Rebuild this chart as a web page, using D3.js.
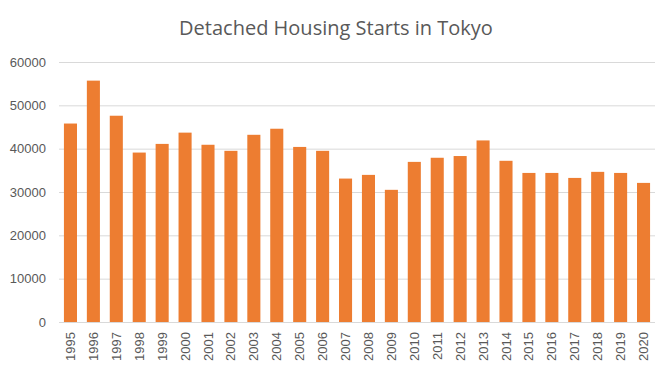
<!DOCTYPE html>
<html>
<head>
<meta charset="utf-8">
<script src="https://cdn.jsdelivr.net/npm/d3@7"></script>
<style>
  body { margin: 0; background: #fff; }
</style>
</head>
<body>
<svg id="chart"></svg>
<script>
var years = ["1995", "1996", "1997", "1998", "1999", "2000", "2001", "2002", "2003",
    "2004", "2005", "2006", "2007", "2008", "2009", "2010", "2011", "2012", "2013",
    "2014", "2015", "2016", "2017", "2018", "2019", "2020"];
var starts = [45800, 55700, 47600, 39100, 41100, 43700, 40900, 39500, 43200,
    44600, 40400, 39500, 33100, 33950, 30500, 36950, 37900, 38300, 41900,
    37200, 34400, 34400, 33250, 34650, 34400, 32100];
var yTicks = [0, 10000, 20000, 30000, 40000, 50000, 60000];

var svgWidth = 672, svgHeight = 375;
var margin = {top: 62, right: 17, bottom: 53, left: 59};
var width = svgWidth - margin.left - margin.right;
var height = svgHeight - margin.top - margin.bottom;

var svg = d3.select("#chart")
    .attr("width", svgWidth)
    .attr("height", svgHeight);

svg.append("text")
    .attr("x", svgWidth / 2)
    .attr("y", 35)
    .attr("text-anchor", "middle")
    .attr("fill", "#595959")
    .style("font-family", "'Open Sans', Lato, sans-serif")
    .style("font-size", "20px")
    .text("Detached Housing Starts in Tokyo");

var g = svg.append("g")
    .attr("transform", "translate(" + margin.left + "," + margin.top + ")");

var x = d3.scaleBand().domain(years).range([0, width]).paddingInner(0.43).paddingOuter(0.215);
var y = d3.scaleLinear().domain([0, 60000]).range([height, 0]);

// gridlines
g.append("g")
    .selectAll("line")
    .data(yTicks.slice(1))
    .enter().append("line")
    .attr("x1", 0)
    .attr("x2", width)
    .attr("y1", function(d) { return y(d) + 0.5; })
    .attr("y2", function(d) { return y(d) + 0.5; })
    .attr("stroke", "#d9d9d9")
    .attr("stroke-width", 1);

g.append("g")
    .selectAll("rect")
    .data(starts)
    .enter().append("rect")
    .attr("x", function(d, i) { return x(years[i]); })
    .attr("width", x.bandwidth())
    .attr("y", function(d) { return y(d); })
    .attr("height", function(d) { return height - y(d); })
    .attr("fill", "#ed7d31");

var yAxis = g.append("g")
    .attr("font-family", "'Liberation Sans', Arial, sans-serif")
    .attr("font-size", 13)
    .call(d3.axisLeft(y).tickValues(yTicks).tickFormat(d3.format("d")).tickSize(0).tickPadding(13));
yAxis.select(".domain").remove();
yAxis.selectAll("text")
    .attr("fill", "#595959")
    .style("font-family", "'Liberation Sans', Arial, sans-serif")
    .style("font-size", "13px");

var xAxis = g.append("g")
    .attr("transform", "translate(0," + height + ")")
    .call(d3.axisBottom(x).tickSize(0).tickPadding(0));
xAxis.select(".domain")
    .attr("stroke", "#d9d9d9")
    .attr("d", "M0,0.5H" + width);
xAxis.selectAll("text")
    .attr("fill", "#595959")
    .style("font-family", "'Liberation Sans', Arial, sans-serif")
    .style("font-size", "13px")
    .attr("text-anchor", "end")
    .attr("dy", "0.35em")
    .attr("transform", "translate(0,10) rotate(-90)")
    .attr("x", 0)
    .attr("y", 0);
</script>
</body>
</html>
